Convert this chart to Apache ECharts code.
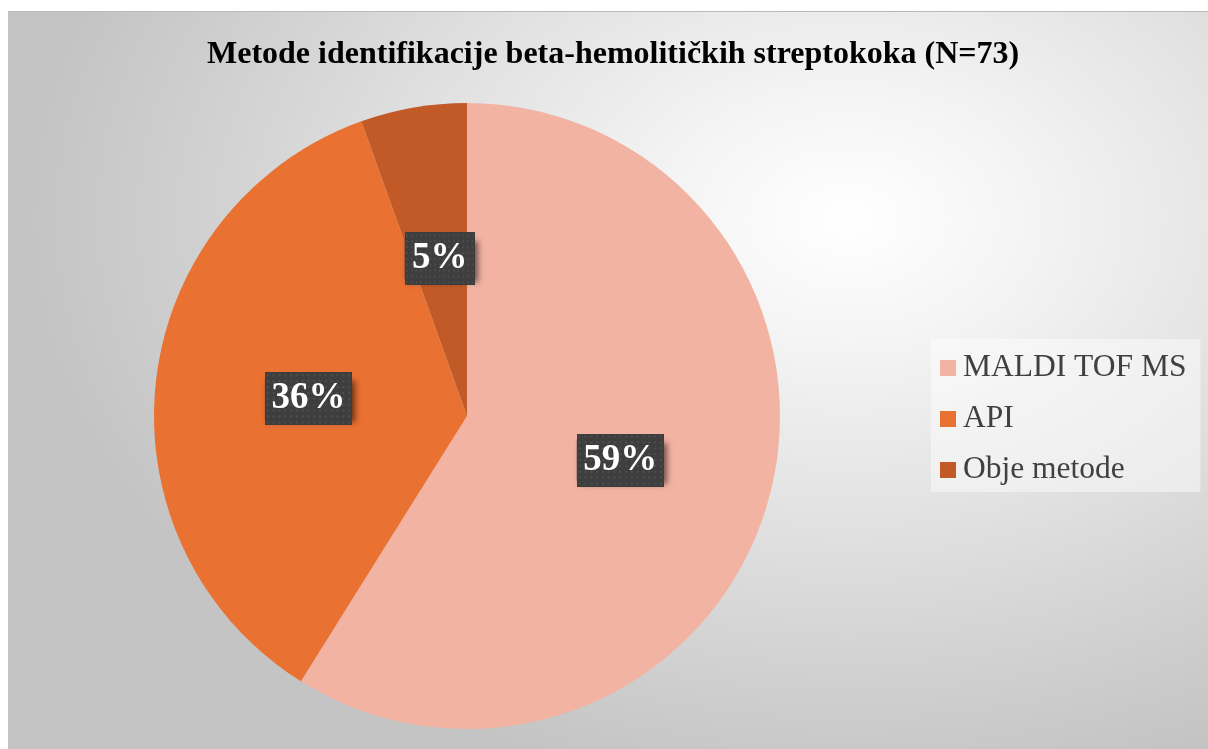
<!DOCTYPE html>
<html>
<head>
<meta charset="utf-8">
<script src="https://cdn.jsdelivr.net/npm/echarts@6/dist/echarts.min.js"></script>
<style>
  html, body { margin: 0; padding: 0; width: 1208px; height: 749px; background: #ffffff; overflow: hidden; }
  #frame { position: absolute; left: 8px; top: 11px; width: 1200px; height: 738px;
    background: radial-gradient(ellipse 68% 78% at 70% 28%, #ffffff 0%, #f4f4f4 22%, #e0e0e0 55%, #cdcdcd 85%, #c4c4c4 100%);
    border-top: 1px solid #b8b8b8; box-sizing: border-box; }
  #chart { position: absolute; left: 0; top: 0; width: 1200px; height: 737px; }
</style>
</head>
<body>
<div id="frame"><div id="chart"></div></div>
<script>
const titleText = 'Metode identifikacije beta-hemolitičkih streptokoka (N=73)';
const categories = ['MALDI TOF MS', 'API', 'Obje metode'];
const counts = [43, 26, 4];
const colors = ['#F2B3A3', '#E97132', '#C25A27'];

// dotted dark image for label boxes
const pat = document.createElement('canvas');
pat.width = 90; pat.height = 54;
(function () {
  const c = pat.getContext('2d');
  c.fillStyle = '#3e3e3e';
  c.fillRect(0, 0, pat.width, pat.height);
  c.fillStyle = '#4e4e4e';
  for (let y = 2; y < pat.height; y += 6) {
    for (let x = 2; x < pat.width; x += 6) c.fillRect(x, y, 2, 2);
  }
})();

const labelFont = { fontFamily: 'Liberation Serif', fontWeight: 'bold', fontSize: 37, lineHeight: 41, height: 41, color: '#ffffff', backgroundColor: { image: pat }, padding: [6, 8, 6, 8] };

const chart = echarts.init(document.getElementById('chart'), null, { renderer: 'canvas' });
chart.setOption({
  backgroundColor: 'transparent',
  animation: false,
  title: {
    text: titleText,
    left: 194,
    top: 22,
    textStyle: { fontFamily: 'Liberation Serif', fontWeight: 'bold', fontSize: 32, color: '#000000' }
  },
  legend: {
    orient: 'vertical',
    left: 923,
    top: 327,
    data: categories,
    icon: 'rect',
    itemWidth: 16,
    itemHeight: 16,
    itemGap: 19,
    padding: [13, 14, 6, 9],
    backgroundColor: 'rgba(255,255,255,0.45)',
    textStyle: { fontFamily: 'Liberation Serif', fontSize: 31.5, lineHeight: 30, color: '#404040', padding: [0, 0, 0, 2] }
  },
  series: [{
    type: 'pie',
    center: [459, 404],
    radius: [0, 313],
    startAngle: 90,
    clockwise: true,
    avoidLabelOverlap: false,
    itemStyle: { borderWidth: 0 },
    label: {
      show: true,
      position: 'inside',
      formatter: p => {
        const t = Math.round(p.percent) + '%';
        return '{' + (t.length > 2 ? 'w3' : 'w2') + '|' + t + '}';
      },
      backgroundColor: '#3e3e3e',
      padding: 0,
      lineHeight: 53,
      shadowColor: 'rgba(0,0,0,0.55)',
      shadowBlur: 6,
      shadowOffsetX: 3,
      shadowOffsetY: 3,
      rich: {
        w2: Object.assign({}, labelFont, { width: 54, align: 'center' }),
        w3: Object.assign({}, labelFont, { width: 71, align: 'center' })
      }
    },
    labelLine: { show: false },
    emphasis: { disabled: true },
    data: categories.map((name, i) => ({ name, value: counts[i], itemStyle: { color: colors[i] } }))
  }]
});
</script>
</body>
</html>
